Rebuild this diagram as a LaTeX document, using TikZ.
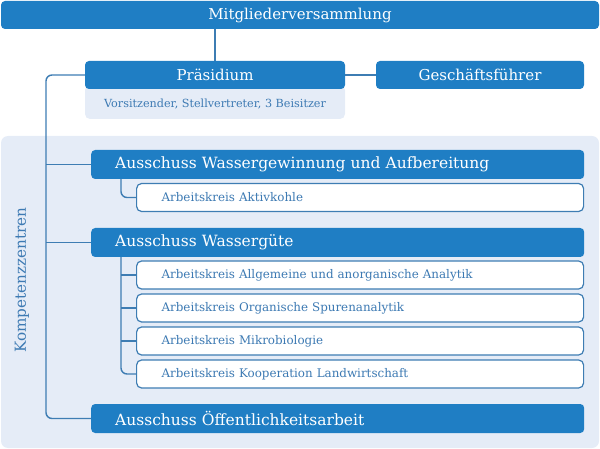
\documentclass[tikz,border=0pt]{standalone}
\usepackage{fontspec}
\setmainfont{DejaVu Serif}
\definecolor{dblue}{RGB}{31,126,196}
\definecolor{lblue}{RGB}{62,125,179}
\definecolor{bgl}{RGB}{229,236,247}
\definecolor{tblue}{RGB}{61,122,179}
\tikzset{
  darkbox/.style={fill=dblue, text=white, rounded corners=4pt, inner sep=0pt, font=\fontsize{15}{17}\selectfont},
  ausbox/.style={fill=dblue, text=white, rounded corners=4pt, anchor=west, minimum height=29pt, inner ysep=0pt, inner xsep=24pt, text width=445pt, align=left, font=\fontsize{15.5}{18}\selectfont},
  akbox/.style={fill=white, draw=lblue, line width=1.2pt, text=tblue, rounded corners=5pt, anchor=west, minimum height=28pt, inner ysep=0pt, inner xsep=25pt, text width=397pt, align=left, font=\fontsize{11.9}{14}\selectfont},
  conn/.style={draw=lblue, line width=1.4pt},
}
\begin{document}
\begin{tikzpicture}[x=1pt,y=-1pt]
\useasboundingbox (0,0) rectangle (600,449);
\fill[bgl, rounded corners=7pt] (1,136) rectangle (599,448);
\node[text=tblue, rotate=90, font=\fontsize{15.2}{17}\selectfont] (kz) at (22,280) {Kompetenzzentren};
\node[fill=bgl, rounded corners=5pt, minimum width=260pt, minimum height=34pt, inner sep=0pt] (pl) at (215,102) {};
\node[text=tblue, font=\fontsize{11.2}{13}\selectfont, inner sep=0pt] (plt) at (215,104) {Vorsitzender, Stellvertreter, 3 Beisitzer};
\node[darkbox, minimum width=598pt, minimum height=28pt] (mv) at (300,15) {Mitgliederversammlung};
\node[darkbox, minimum width=260pt, minimum height=28pt] (pr) at (215,75) {Präsidium};
\node[darkbox, minimum width=208pt, minimum height=28pt] (gf) at (480,75) {Geschäftsführer};
\node[ausbox] (a1) at (91,164.5) {Ausschuss Wassergewinnung und Aufbereitung};
\node[akbox] (k0) at (136,197.5) {Arbeitskreis Aktivkohle};
\node[ausbox] (a2) at (91,242.5) {Ausschuss Wassergüte};
\node[akbox] (k1) at (136,275) {Arbeitskreis Allgemeine und anorganische Analytik};
\node[akbox] (k2) at (136,308) {Arbeitskreis Organische Spurenanalytik};
\node[akbox] (k3) at (136,341) {Arbeitskreis Mikrobiologie};
\node[akbox] (k4) at (136,374) {Arbeitskreis Kooperation Landwirtschaft};
\node[ausbox] (a3) at (91,418.5) {Ausschuss Öffentlichkeitsarbeit};
\coordinate (sp) at (46,75);
\coordinate (sk) at (121,0);
\draw[conn] (pr.north) -- (pr.north |- mv.south);
\draw[conn] (pr.east) -- (gf.west);
\draw[conn, rounded corners=6pt] (pr.west) -- (pr.west -| sp) -- (sp |- a3.west) -- (a3.west);
\draw[conn] (sp |- a1.west) -- (a1.west);
\draw[conn] (sp |- a2.west) -- (a2.west);
\draw[conn, rounded corners=6pt] (a1.south -| sk) -- (sk |- k0.west) -- (k0.west);
\draw[conn, rounded corners=6pt] (a2.south -| sk) -- (sk |- k4.west) -- (k4.west);
\draw[conn] (sk |- k1.west) -- (k1.west);
\draw[conn] (sk |- k2.west) -- (k2.west);
\draw[conn] (sk |- k3.west) -- (k3.west);
\end{tikzpicture}
\end{document}
